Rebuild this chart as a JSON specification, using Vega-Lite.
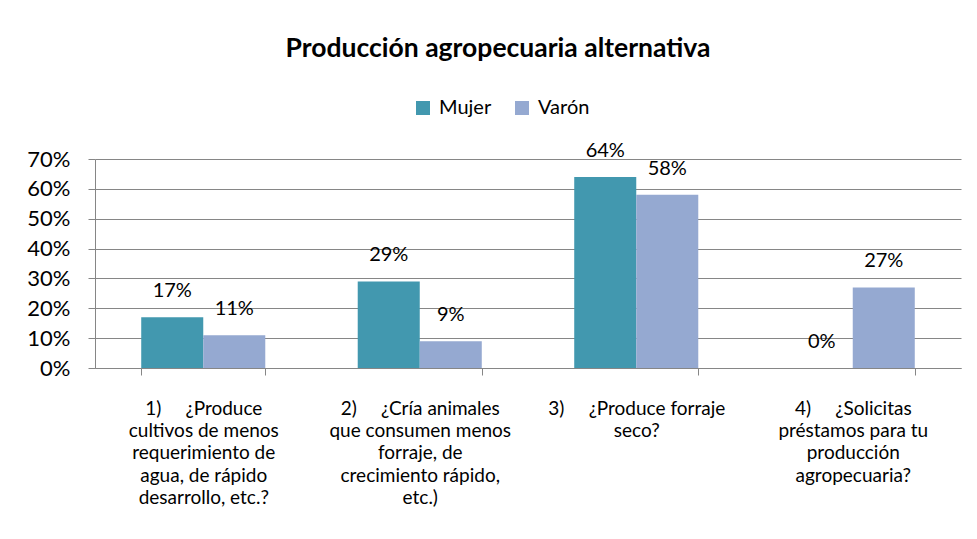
{
  "$schema": "https://vega.github.io/schema/vega-lite/v6.json",
  "autosize": "none",
  "width": 866,
  "height": 209,
  "padding": {"left": 95, "top": 159, "right": 16, "bottom": 171},
  "background": "white",
  "title": {
    "text": "Producción agropecuaria alternativa",
    "font": "Lato",
    "fontSize": 26.5,
    "fontWeight": "bold",
    "color": "#000000",
    "anchor": "middle",
    "frame": "group",
    "offset": 36,
    "dx": -30
  },
  "data": {
    "values": [
      {"pregunta": "1)\u00a0\u00a0\u00a0\u00a0\u00a0¿Produce|cultivos de menos|requerimiento de|agua, de rápido|desarrollo, etc.?", "orden": 1, "sexo": "Mujer", "valor": 0.17},
      {"pregunta": "1)\u00a0\u00a0\u00a0\u00a0\u00a0¿Produce|cultivos de menos|requerimiento de|agua, de rápido|desarrollo, etc.?", "orden": 1, "sexo": "Varón", "valor": 0.11},
      {"pregunta": "2)\u00a0\u00a0\u00a0\u00a0\u00a0¿Cría animales|que consumen menos|forraje, de|crecimiento rápido,|etc.)", "orden": 2, "sexo": "Mujer", "valor": 0.29},
      {"pregunta": "2)\u00a0\u00a0\u00a0\u00a0\u00a0¿Cría animales|que consumen menos|forraje, de|crecimiento rápido,|etc.)", "orden": 2, "sexo": "Varón", "valor": 0.09},
      {"pregunta": "3)\u00a0\u00a0\u00a0\u00a0\u00a0¿Produce forraje|seco?", "orden": 3, "sexo": "Mujer", "valor": 0.64},
      {"pregunta": "3)\u00a0\u00a0\u00a0\u00a0\u00a0¿Produce forraje|seco?", "orden": 3, "sexo": "Varón", "valor": 0.58},
      {"pregunta": "4)\u00a0\u00a0\u00a0\u00a0\u00a0¿Solicitas|préstamos para tu|producción|agropecuaria?", "orden": 4, "sexo": "Mujer", "valor": 0.0},
      {"pregunta": "4)\u00a0\u00a0\u00a0\u00a0\u00a0¿Solicitas|préstamos para tu|producción|agropecuaria?", "orden": 4, "sexo": "Varón", "valor": 0.27}
    ]
  },
  "encoding": {
    "x": {
      "field": "pregunta",
      "type": "nominal",
      "sort": {"field": "orden"},
      "scale": {"paddingInner": 0.427, "paddingOuter": 0.2135},
      "axis": {
        "title": null,
        "labelAngle": 0,
        "labelExpr": "split(datum.label, '|')",
        "labelFont": "Lato",
        "labelFontSize": 19,
        "labelColor": "#000000",
        "labelLineHeight": 22.4,
        "labelPadding": 24,
        "labelLimit": 300,
        "tickBand": "extent",
        "tickSize": 7,
        "tickColor": "#868686",
        "domainColor": "#868686",
        "grid": false
      }
    },
    "xOffset": {"field": "sexo", "type": "nominal", "sort": ["Mujer", "Varón"], "scale": {"paddingInner": 0, "paddingOuter": 0}},
    "y": {
      "field": "valor",
      "type": "quantitative",
      "scale": {"domain": [0, 0.7], "nice": false},
      "axis": {
        "title": null,
        "format": ".0%",
        "values": [0, 0.1, 0.2, 0.3, 0.4, 0.5, 0.6, 0.7],
        "labelFont": "Lato",
        "labelFontSize": 22,
        "labelColor": "#000000",
        "labelPadding": 18,
        "tickSize": 7,
        "tickColor": "#868686",
        "domainColor": "#868686",
        "gridColor": "#868686",
        "grid": true
      }
    }
  },
  "layer": [
    {
      "mark": {"type": "bar"},
      "encoding": {
        "color": {
          "field": "sexo",
          "type": "nominal",
          "sort": ["Mujer", "Varón"],
          "scale": {"domain": ["Mujer", "Varón"], "range": ["#4298AF", "#95A9D1"]},
          "legend": {
            "title": null,
            "orient": "none",
            "direction": "horizontal",
            "legendX": 318,
            "legendY": -61,
            "symbolType": "square",
            "symbolSize": 196,
            "symbolStrokeWidth": 0,
            "labelFont": "Lato",
            "labelFontSize": 20,
            "labelColor": "#000000",
            "columnPadding": 20,
            "labelOffset": 6
          }
        }
      }
    },
    {
      "mark": {"type": "text", "baseline": "alphabetic", "dy": -20, "font": "Lato", "fontSize": 20, "color": "#000000"},
      "encoding": {
        "text": {"field": "valor", "type": "quantitative", "format": ".0%"}
      }
    }
  ],
  "config": {
    "view": {"stroke": null}
  }
}
